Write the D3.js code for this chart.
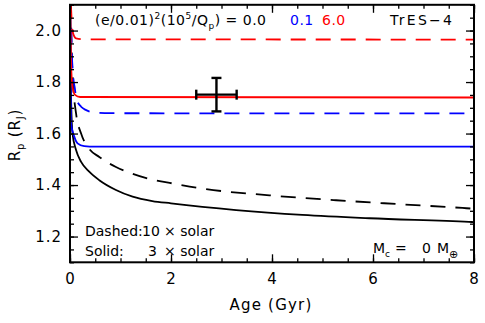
<!DOCTYPE html>
<html>
<head>
<meta charset="utf-8">
<script src="https://cdn.jsdelivr.net/npm/d3@7"></script>
<style>
  body { margin: 0; background: #fff; }
  text { font-family: "DejaVu Sans", sans-serif; font-size: 14px; fill: #000; }
</style>
</head>
<body>
<svg id="chart" width="485" height="323"></svg>
<script>
// age (Gyr), radius (R_J)
var blackSolid = [[0,2.25],[0.02,1.75],[0.05,1.60],[0.12,1.536],[0.22,1.49],[0.38,1.452],[0.58,1.419],[0.91,1.381],[1.24,1.355],[1.63,1.338],[2.0,1.329],[3.29,1.303],[4.6,1.284],[5.93,1.271],[7.9,1.257],[8,1.256]]
var blackDashed = [[0,2.4],[0.03,1.95],[0.06,1.80],[0.12,1.678],[0.22,1.60],[0.38,1.541],[0.58,1.509],[0.91,1.47],[1.24,1.444],[1.63,1.421],[2.04,1.406],[2.63,1.386],[3.95,1.36],[5.27,1.341],[6.58,1.325],[7.77,1.311],[8,1.308]]
var blueSolid = [[0,2.3],[0.01,1.9],[0.02,1.64],[0.085,1.588],[0.15,1.562],[0.28,1.551],[0.5,1.549],[8,1.549]]
var blueDashed = [[0,2.3],[0.03,1.95],[0.06,1.83],[0.1,1.77],[0.12,1.737],[0.22,1.704],[0.32,1.691],[0.51,1.681],[0.8,1.679],[8,1.678]]
var redSolid = [[0,2.15],[0.02,1.88],[0.05,1.78],[0.1,1.75],[0.2,1.742],[8,1.74]]
var redDashed = [[0,2.2],[0.03,2.05],[0.06,1.99],[0.12,1.97],[0.3,1.966],[8,1.965]]
var obs = {age: 2.9, ageErr: 0.4, r: 1.751, rErr: 0.065}
var xTicks = [0, 2, 4, 6, 8]
var yTicks = [1.2, 1.4, 1.6, 1.8, 2.0]

var svg = d3.select("#chart")
var L = 70, R = 474, T = 4.8, B = 262.3
var x = d3.scaleLinear().domain([0, 8]).range([L, R])
var y = d3.scaleLinear().domain([1.1, 2.1]).range([B, T])

svg.append("clipPath").attr("id", "clip")
  .append("rect").attr("x", L).attr("y", T).attr("width", R - L).attr("height", B - T)

var line = d3.line().x(d => x(d[0])).y(d => y(d[1])).curve(d3.curveMonotoneX)
var series = [
  {d: blackSolid, c: "#000", dash: null},
  {d: blackDashed, c: "#000", dash: "15,10"},
  {d: blueSolid, c: "#0000ff", dash: null},
  {d: blueDashed, c: "#0000ff", dash: "15,10"},
  {d: redSolid, c: "#ff0000", dash: null},
  {d: redDashed, c: "#ff0000", dash: "15,10"}
]
var g = svg.append("g").attr("clip-path", "url(#clip)")
series.forEach(function(s) {
  g.append("path").attr("d", line(s.d)).attr("fill", "none")
    .attr("stroke", s.c).attr("stroke-width", 1.8)
    .attr("stroke-dasharray", s.dash)
})

// axes: inward ticks on all four sides
function addAxis(axis, tx, ty) {
  var a = svg.append("g").attr("transform", "translate(" + tx + "," + ty + ")").call(axis)
  a.select(".domain").remove()
  a.selectAll("line").attr("stroke", "#000").attr("stroke-width", 1.3)
  a.selectAll("text").attr("font-family", null).attr("font-size", null)
    .style("font-size", "15px").style("letter-spacing", "1px")
  return a
}
var xMinor = d3.range(0, 8.01, 0.5)
var yMinor = d3.range(1.1, 2.101, 0.05)
addAxis(d3.axisBottom(x).tickValues(xTicks).tickSize(-8).tickPadding(11).tickFormat(d3.format("d")), 0, B)
addAxis(d3.axisBottom(x).tickValues(xMinor).tickSize(-4).tickFormat(""), 0, B)
addAxis(d3.axisTop(x).tickValues(xTicks).tickSize(-8).tickFormat(""), 0, T)
addAxis(d3.axisTop(x).tickValues(xMinor).tickSize(-4).tickFormat(""), 0, T)
addAxis(d3.axisLeft(y).tickValues(yTicks).tickSize(-8).tickPadding(8).tickFormat(d3.format(".1f")), L, 0)
addAxis(d3.axisLeft(y).tickValues(yMinor).tickSize(-4).tickFormat(""), L, 0)
addAxis(d3.axisRight(y).tickValues(yTicks).tickSize(-8).tickFormat(""), R, 0)
addAxis(d3.axisRight(y).tickValues(yMinor).tickSize(-4).tickFormat(""), R, 0)

svg.append("rect").attr("x", L).attr("y", T).attr("width", R - L).attr("height", B - T)
  .attr("fill", "none").attr("stroke", "#000").attr("stroke-width", 2)

// observed point with error bars
var eb = svg.append("g").attr("stroke", "#000").attr("stroke-width", 2.4)
eb.append("line").attr("x1", x(obs.age - obs.ageErr)).attr("x2", x(obs.age + obs.ageErr)).attr("y1", y(obs.r)).attr("y2", y(obs.r))
eb.append("line").attr("x1", x(obs.age)).attr("x2", x(obs.age)).attr("y1", y(obs.r - obs.rErr)).attr("y2", y(obs.r + obs.rErr))
;[obs.age - obs.ageErr, obs.age + obs.ageErr].forEach(function(a) {
  eb.append("line").attr("x1", x(a)).attr("x2", x(a)).attr("y1", y(obs.r) - 5).attr("y2", y(obs.r) + 5)
})
;[obs.r - obs.rErr, obs.r + obs.rErr].forEach(function(r) {
  eb.append("line").attr("x1", x(obs.age) - 5).attr("x2", x(obs.age) + 5).attr("y1", y(r)).attr("y2", y(r))
})

// labels
svg.append("text").attr("x", 271).attr("y", 310).attr("text-anchor", "middle")
  .style("font-size", "15px").style("letter-spacing", "1.2px").text("Age (Gyr)")
var yl = svg.append("text").attr("transform", "translate(20,135) rotate(-90)").attr("text-anchor", "middle")
  .style("font-size", "15px").style("letter-spacing", "0.8px")
yl.append("tspan").text("R")
yl.append("tspan").attr("dy", 4).style("font-size", "10px").text("p")
yl.append("tspan").attr("dy", -4).text(" (R")
yl.append("tspan").attr("dy", 4).style("font-size", "10px").text("J")
yl.append("tspan").attr("dy", -4).text(")")

var t1 = svg.append("text").attr("x", 95).attr("y", 25).style("letter-spacing", "0.5px")
t1.append("tspan").text("(e/0.01)")
t1.append("tspan").attr("dy", -6).style("font-size", "9px").text("2")
t1.append("tspan").attr("dy", 6).text("(10")
t1.append("tspan").attr("dy", -6).style("font-size", "9px").text("5")
t1.append("tspan").attr("dy", 6).text("/Q")
t1.append("tspan").attr("dy", 4).style("font-size", "9px").text("p")
t1.append("tspan").attr("dy", -4).text(") = 0.0")
svg.append("text").attr("x", 290).attr("y", 25).style("fill", "#0000ff").style("letter-spacing", "0.5px").text("0.1")
svg.append("text").attr("x", 322).attr("y", 25).style("fill", "#ff0000").style("letter-spacing", "0.5px").text("6.0")
svg.append("text").attr("x", 390).attr("y", 25).attr("textLength", 62).attr("lengthAdjust", "spacing").text("TrES\u22124")

svg.append("text").attr("x", 85).attr("y", 236).text("Dashed:")
svg.append("text").attr("x", 142).attr("y", 236).text("10")
svg.append("text").attr("x", 164).attr("y", 236).text("\u00d7 solar")
svg.append("text").attr("x", 85).attr("y", 256).text("Solid:")
svg.append("text").attr("x", 148).attr("y", 256).text("3")
svg.append("text").attr("x", 164).attr("y", 256).text("\u00d7 solar")

var mc = svg.append("text").attr("x", 373).attr("y", 253)
mc.append("tspan").text("M")
mc.append("tspan").attr("dy", 4).style("font-size", "9px").text("c")
svg.append("text").attr("x", 395).attr("y", 253).text("=")
var m2 = svg.append("text").attr("x", 422).attr("y", 253)
m2.append("tspan").text("0")
m2.append("tspan").attr("x", 437).text("M")
m2.append("tspan").attr("dy", 5).style("font-size", "11px").text("\u2295")
</script>
</body>
</html>
